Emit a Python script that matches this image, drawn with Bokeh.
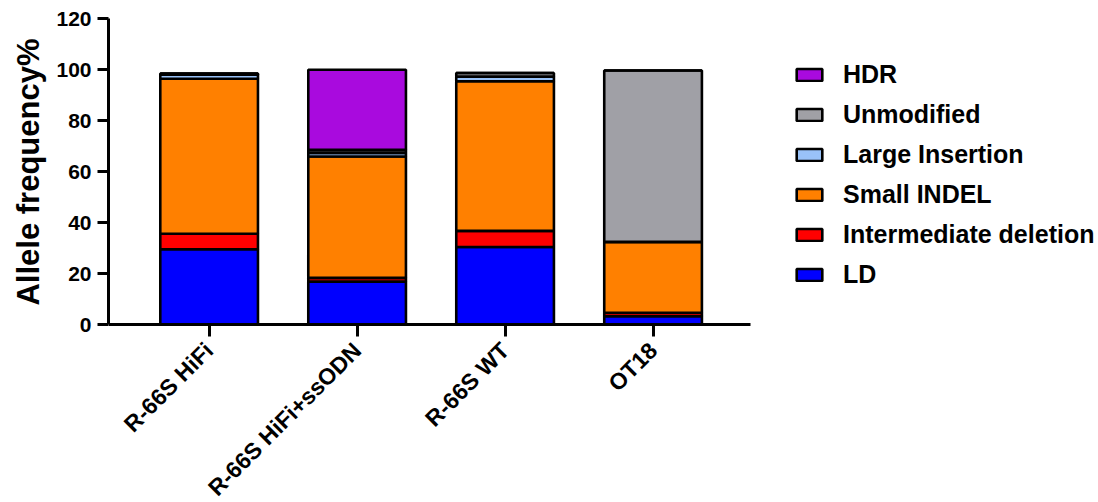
import math

from bokeh.embed import file_html
from bokeh.models import (ColumnDataSource, FixedTicker, Legend, LegendItem,
                          Range1d, Title)
from bokeh.plotting import figure
from bokeh.resources import INLINE

# Allele outcome frequencies (%) per sample, stacked bottom to top
samples = ["R-66S HiFi", "R-66S HiFi+ssODN", "R-66S WT", "OT18"]
ld = [29.5, 16.8, 30.4, 3.3]
intermediate_deletion = [6.1, 1.5, 6.3, 1.3]
small_indel = [60.8, 47.6, 58.7, 27.8]
large_insertion = [1.6, 1.4, 1.8, 0.0]
unmodified = [0.4, 1.2, 1.4, 67.2]
hdr = [0.0, 31.4, 0.0, 0.0]
y_ticks = [0, 20, 40, 60, 80, 100, 120]

series = [
    ("LD", ld, "#0000FF"),
    ("Intermediate deletion", intermediate_deletion, "#FF0000"),
    ("Small INDEL", small_indel, "#FF8000"),
    ("Large Insertion", large_insertion, "#99C2F8"),
    ("Unmodified", unmodified, "#A0A0A6"),
    ("HDR", hdr, "#A90ADE"),
]

positions = list(range(len(samples)))
data = {"x": positions}
for name, vals, _ in series:
    data[name] = vals
source = ColumnDataSource(data)

FONT = "Liberation Sans"

# the frame runs to the bottom edge; the x axis sits at y = 0 inside it so
# the slanted sample names have room below the bars
p = figure(
    width=1098, height=502,
    x_range=Range1d(-0.68, 6.01), y_range=Range1d(-69.8, 120),
    output_backend="svg", toolbar_location=None,
    min_border_left=108, min_border_right=0,
    min_border_top=18, min_border_bottom=0,
)
p.outline_line_color = None
p.xgrid.visible = False
p.ygrid.visible = False
p.background_fill_color = "white"
p.border_fill_color = "white"

renderers = p.vbar_stack(
    [name for name, _, _ in series], x="x", width=0.66, source=source,
    fill_color=[c for _, _, c in series], line_color="black", line_width=2.6,
)

# axes
for ax in (p.xaxis[0], p.yaxis[0]):
    ax.axis_line_width = 3
    ax.axis_line_color = "black"
    ax.major_tick_line_width = 3
    ax.major_tick_line_color = "black"
    ax.major_tick_in = 0
    ax.minor_tick_line_color = None
    ax.major_label_text_font = FONT
    ax.major_label_text_font_style = "bold"
    ax.major_label_text_color = "black"

p.yaxis.bounds = (0, 120)
p.yaxis.ticker = FixedTicker(ticks=y_ticks)
p.yaxis.major_tick_out = 11
p.yaxis.major_label_text_font_size = "21px"
p.yaxis.major_label_standoff = 6

# y axis title, kept level with the 0-120 span rather than the whole frame
y_title = Title(
    text="Allele frequency%", align="right", offset=20, standoff=16,
    text_font=FONT, text_font_style="bold", text_font_size="31px",
    text_color="black",
)
p.add_layout(y_title, "left")

p.xaxis.fixed_location = 0
p.xaxis.bounds = (-0.68, 3.66)
p.xaxis.ticker = FixedTicker(ticks=positions)
p.xaxis.major_label_overrides = {i: s for i, s in enumerate(samples)}
p.xaxis.major_tick_out = 12
p.xaxis.major_label_text_font_size = "23px"
p.xaxis.major_label_orientation = math.pi / 4
p.xaxis.major_label_standoff = 10

items = [LegendItem(label=name, renderers=[r])
         for (name, _, _), r in zip(series, renderers)]
legend = Legend(
    items=list(reversed(items)), location=(685, 213),
    label_text_font=FONT, label_text_font_style="bold",
    label_text_font_size="25px", label_text_color="black",
    glyph_width=32, glyph_height=15, label_standoff=18,
    label_height=29, spacing=11, padding=0, margin=0,
    border_line_color=None, background_fill_alpha=0,
)
p.add_layout(legend, "center")

open("out.html", "w").write(file_html(p, INLINE))
